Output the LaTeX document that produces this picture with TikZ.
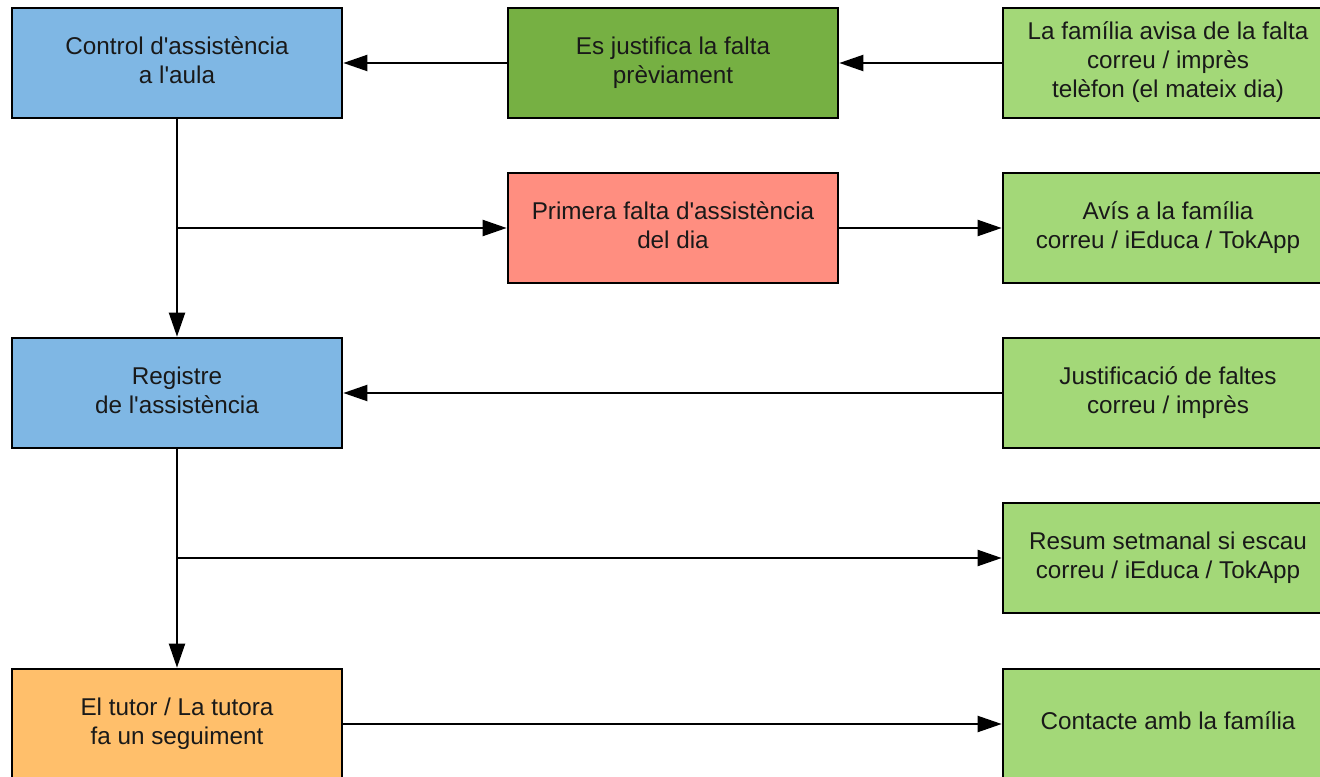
\documentclass[tikz,border=0pt]{standalone}
\usepackage{fontspec}
\setmainfont{Liberation Sans}[Ligatures=TeXOff]
\usetikzlibrary{arrows.meta}
\definecolor{cblue}{HTML}{7FB7E4}
\definecolor{cdgreen}{HTML}{76B043}
\definecolor{clgreen}{HTML}{A3D878}
\definecolor{cred}{HTML}{FF8E80}
\definecolor{corange}{HTML}{FFBF6B}
\tikzset{
  box/.style={draw=black, line width=2pt, minimum width=247.5pt, minimum height=82.5pt,
    inner sep=0pt, align=center, text=black!90,
    font=\fontsize{18.2}{21.8}\selectfont,
    execute at end node={\rule[-4.5pt]{0pt}{4.5pt}}},
  conn/.style={line width=1.6pt, -{Triangle[length=18pt,width=12pt]}}
}
\begin{document}
\begin{tikzpicture}[x=0.75pt,y=-0.75pt]
\useasboundingbox (0,0) rectangle (1320,777);
\clip (0,0) rectangle (1320,777);
\fill[white] (0,0) rectangle (1320,777);
% column 1
\node[box, fill=cblue] (ctrl) at (177,63) {Control d'assistència\\a l'aula};
\node[box, fill=cblue] (reg) at (177,393) {Registre\\de l'assistència};
\node[box, fill=corange] (tut) at (177,724) {El tutor / La tutora\\fa un seguiment};
% column 2
\node[box, fill=cdgreen] (just) at (673,63) {Es justifica la falta\\prèviament};
\node[box, fill=cred] (prim) at (673,228) {Primera falta d'assistència\\del dia};
% column 3
\node[box, fill=clgreen] (fam) at (1168,63) {La família avisa de la falta\\correu / imprès\\telèfon (el mateix dia)};
\node[box, fill=clgreen] (avis) at (1168,228) {Avís a la família\\correu / iEduca / TokApp};
\node[box, fill=clgreen] (jf) at (1168,393) {Justificació de faltes\\correu / imprès};
\node[box, fill=clgreen] (res) at (1168,558) {Resum setmanal si escau\\correu / iEduca / TokApp};
\node[box, fill=clgreen] (cont) at (1168,724) {Contacte amb la família};
% branch points
\coordinate (br1) at (177,228);
\coordinate (br2) at (177,558);
% connectors
\draw[conn] (fam.west) -- (just.east);
\draw[conn] (just.west) -- (ctrl.east);
\draw[conn] (ctrl.south) -- (reg.north);
\draw[conn] (br1) -- (prim.west);
\draw[conn] (prim.east) -- (avis.west);
\draw[conn] (jf.west) -- (reg.east);
\draw[conn] (reg.south) -- (tut.north);
\draw[conn] (br2) -- (res.west);
\draw[conn] (tut.east) -- (cont.west);
\end{tikzpicture}
\end{document}
